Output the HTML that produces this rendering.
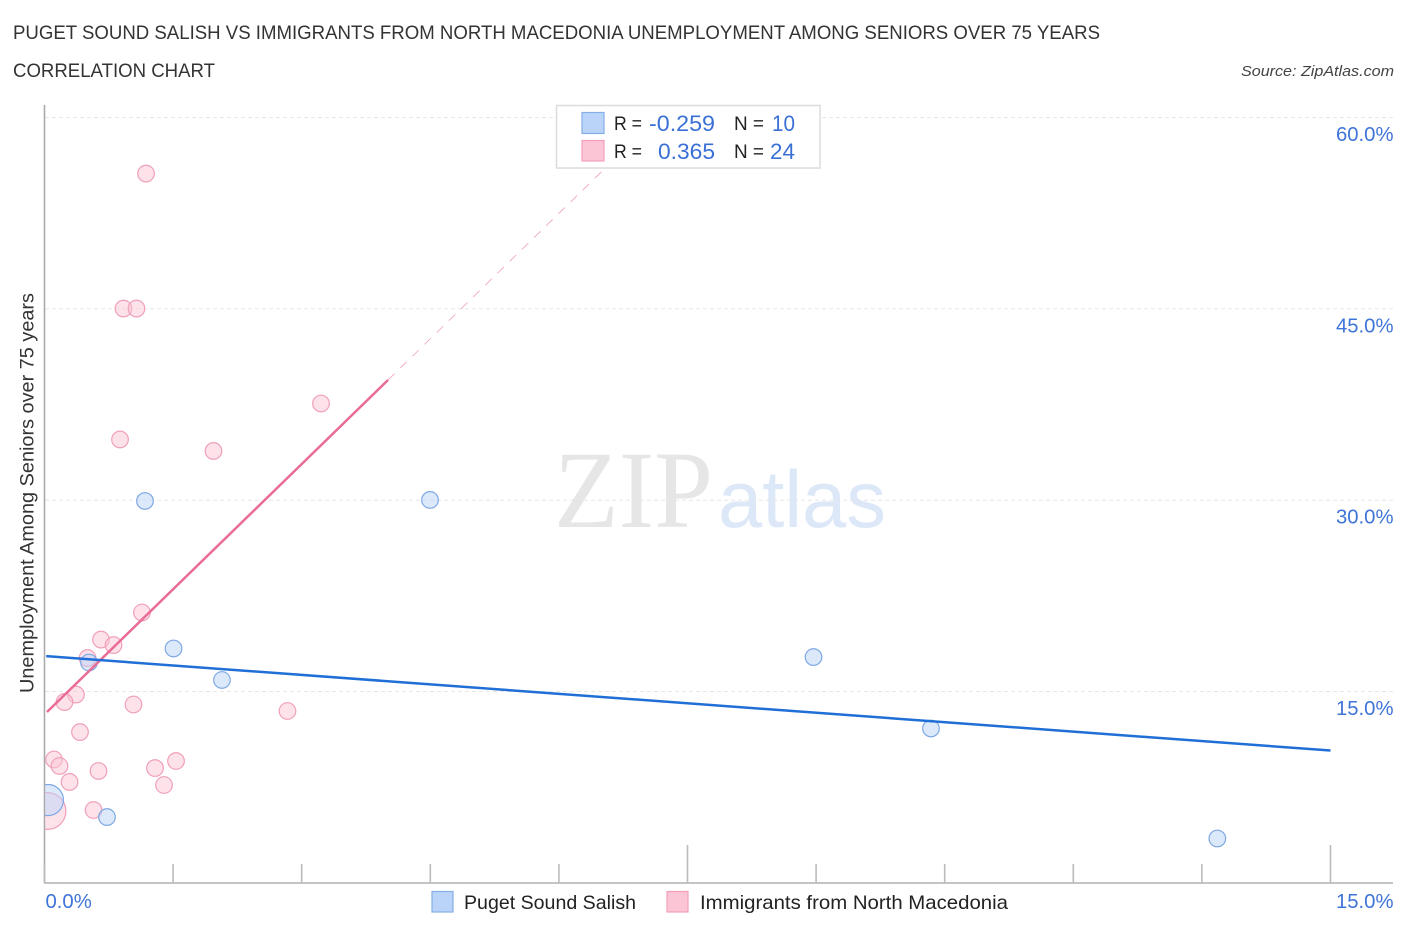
<!DOCTYPE html>
<html lang="en">
<head>
<meta charset="utf-8">
<title>Puget Sound Salish vs Immigrants from North Macedonia Correlation Chart</title>
<style>
html,body{margin:0;padding:0;background:#fff;}
svg{display:block;font-family:"Liberation Sans",sans-serif;}
</style>
</head>
<body>
<svg id="chart" xmlns="http://www.w3.org/2000/svg" width="1406" height="930" viewBox="0 0 1406 930">
  <defs>
    <clipPath id="plot-clip"><rect x="45" y="100" width="1350" height="783"/></clipPath>
  </defs>
  <rect x="0" y="0" width="1406" height="930" fill="#fff"/>
  <text x="13" y="39" font-size="19" fill="#333" textLength="1087" lengthAdjust="spacingAndGlyphs">PUGET SOUND SALISH VS IMMIGRANTS FROM NORTH MACEDONIA UNEMPLOYMENT AMONG SENIORS OVER 75 YEARS</text>
  <text x="13" y="77" font-size="19" fill="#333" textLength="202" lengthAdjust="spacingAndGlyphs">CORRELATION CHART</text>
  <text x="1241" y="76" font-size="15" font-style="italic" fill="#444" textLength="153" lengthAdjust="spacingAndGlyphs">Source: ZipAtlas.com</text>

  <g>
    <text x="554" y="527" font-family="'Liberation Serif',serif" font-size="110" fill="#e6e6e6" textLength="159" lengthAdjust="spacingAndGlyphs">ZIP</text>
    <text x="718" y="527" font-size="81" fill="#dce8f8" textLength="168" lengthAdjust="spacingAndGlyphs">atlas</text>
  </g>

  <g id="grid"></g>
  <g id="axes"></g>
  <g id="points" clip-path="url(#plot-clip)"></g>
  <g id="trends"></g>
  <g id="tick-labels"></g>

  <text transform="translate(33.5,493) rotate(-90)" text-anchor="middle" font-size="19" fill="#333" textLength="400" lengthAdjust="spacingAndGlyphs">Unemployment Among Seniors over 75 years</text>

  <g>
    <rect x="556.5" y="105.5" width="263.5" height="62.5" fill="#fff" stroke="#dcdcdc" stroke-width="1.5"/>
    <rect x="582" y="112.5" width="22" height="21" fill="#b9d4f8" stroke="#86aee6" stroke-width="1.2"/>
    <rect x="582" y="140.5" width="22" height="20.5" fill="#fcc5d6" stroke="#f2a0ba" stroke-width="1.2"/>
    <text x="614" y="130" font-size="19" fill="#222" textLength="28" lengthAdjust="spacingAndGlyphs">R =</text>
    <text x="649" y="131" font-size="22" fill="#3a70d6" textLength="66" lengthAdjust="spacingAndGlyphs">-0.259</text>
    <text x="734" y="130" font-size="19" fill="#222" textLength="30" lengthAdjust="spacingAndGlyphs">N =</text>
    <text x="772" y="131" font-size="22" fill="#3a70d6" textLength="23" lengthAdjust="spacingAndGlyphs">10</text>
    <text x="614" y="158" font-size="19" fill="#222" textLength="28" lengthAdjust="spacingAndGlyphs">R =</text>
    <text x="658" y="159" font-size="22" fill="#3a70d6" textLength="57" lengthAdjust="spacingAndGlyphs">0.365</text>
    <text x="734" y="158" font-size="19" fill="#222" textLength="30" lengthAdjust="spacingAndGlyphs">N =</text>
    <text x="770" y="159" font-size="22" fill="#3a70d6" textLength="25" lengthAdjust="spacingAndGlyphs">24</text>
  </g>

  <g>
    <g>
      <rect x="432" y="891.5" width="21" height="20.5" fill="#b9d4f8" stroke="#86aee6" stroke-width="1.2"/>
      <text x="464" y="909" font-size="19.5" fill="#222" textLength="172" lengthAdjust="spacingAndGlyphs">Puget Sound Salish</text>
    </g>
    <g>
      <rect x="667" y="891.5" width="21" height="20.5" fill="#fcc5d6" stroke="#f2a0ba" stroke-width="1.2"/>
      <text x="700" y="909" font-size="19.5" fill="#222" textLength="308" lengthAdjust="spacingAndGlyphs">Immigrants from North Macedonia</text>
    </g>
  </g>
</svg>
<script>
const blueX = [1.172, 4.497, 1.505, 2.070, 0.519, 0.729, 8.970, 10.34, 13.68, 0.04];
const blueY = [29.94, 30.02, 18.38, 15.91, 17.28, 5.17, 17.71, 12.11, 3.49, 6.50];
const blueSize = [1, 1, 1, 1, 1, 1, 1, 1, 1, 3.5];
const pinkX = [1.184, 0.921, 1.073, 3.225, 0.881, 1.971, 1.137, 0.659, 0.805, 0.502, 0.367, 0.233, 1.038, 2.834, 0.414, 0.111, 0.175, 0.630, 1.289, 1.534, 0.292, 1.394, 0.572, 0.035];
const pinkY = [55.60, 45.02, 45.02, 37.58, 34.76, 33.86, 21.20, 19.08, 18.65, 17.63, 14.77, 14.18, 13.99, 13.48, 11.83, 9.68, 9.17, 8.78, 9.01, 9.56, 7.92, 7.68, 5.72, 5.64];
const pinkSize = [1, 1, 1, 1, 1, 1, 1, 1, 1, 1, 1, 1, 1, 1, 1, 1, 1, 1, 1, 1, 1, 1, 1, 4.9];
const blueTrendX = [0.02, 15];
const blueTrendY = [17.78, 10.38];
const pinkTrendX = [0.029, 4.007];
const pinkTrendY = [13.40, 39.42];
const pinkDashX = [4.007, 6.557];
const pinkDashY = [39.42, 56.13];
const yTicks = [15, 30, 45, 60];
const yTickLabels = ["15.0%", "30.0%", "45.0%", "60.0%"];
const xTicks = [0, 1.5, 3, 4.5, 6, 7.5, 9, 10.5, 12, 13.5, 15];
const xMajorTicks = [7.5, 15];
const xEndTicks = [0, 15];
const xEndLabels = ["0.0%", "15.0%"];

const NS = "http://www.w3.org/2000/svg";
function sx(v) { return 44.5 + v * 85.733; }
function sy(v) { return 883 - v * 12.76; }
function make(tag, attrs, parent) {
  const el = document.createElementNS(NS, tag);
  for (const k in attrs) el.setAttribute(k, attrs[k]);
  document.getElementById(parent).appendChild(el);
  return el;
}

yTicks.forEach(function (t, i) {
  const grid = make("line", { x1: 45, x2: 1393, y1: sy(t), y2: sy(t), stroke: "#e4e4e4", "stroke-width": 0.9, "stroke-dasharray": "4 3" }, "grid");
  
  
  const label = make("text", { x: 1393.5, y: sy(t) + 23.5, "text-anchor": "end", "font-size": 20.3, fill: "#3f74d8" }, "tick-labels");
  label.textContent = yTickLabels[i];
  
  
});

const yAxis = make("line", { x1: 44.5, x2: 44.5, y1: 105, y2: 883, stroke: "#aaa", "stroke-width": 1.6 }, "axes");


const xAxis = make("line", { x1: 44, x2: 1393, y1: 883, y2: 883, stroke: "#bbb", "stroke-width": 1.8 }, "axes");



xTicks.forEach(function (t) {
  const major = xMajorTicks.indexOf(t) >= 0;
  const tick = make("line", { x1: sx(t), x2: sx(t), y1: major ? 845 : 864, y2: 883, stroke: "#bbb", "stroke-width": 1.6 }, "axes");
  
  
});

xEndTicks.forEach(function (t, i) {
  const label = make("text", { x: i === 0 ? sx(t) + 1 : 1393.5, y: 908, "text-anchor": i === 0 ? "start" : "end", "font-size": 20.3, fill: "#3f74d8" }, "tick-labels");
  label.textContent = xEndLabels[i];
  
  
});

pinkX.forEach(function (v, i) {
  const c = make("circle", { cx: sx(v), cy: sy(pinkY[i]), r: 8.3 * Math.sqrt(pinkSize[i]), fill: "#fcc5d6", "fill-opacity": 0.5, stroke: "#f0a0b9", "stroke-width": 1.2 }, "points");
  
  
});

blueX.forEach(function (v, i) {
  const c = make("circle", { cx: sx(v), cy: sy(blueY[i]), r: 8.3 * Math.sqrt(blueSize[i]), fill: "#b9d4f8", "fill-opacity": 0.5, stroke: "#7fa8e4", "stroke-width": 1.2 }, "points");
  
  
});

const pinkDash = make("line", { x1: sx(pinkDashX[0]), y1: sy(pinkDashY[0]), x2: sx(pinkDashX[1]), y2: sy(pinkDashY[1]), stroke: "#e87fa3", "stroke-width": 0.8, "stroke-dasharray": "9 8", "stroke-opacity": 0.75 }, "trends");



const pinkTrend = make("line", { x1: sx(pinkTrendX[0]), y1: sy(pinkTrendY[0]), x2: sx(pinkTrendX[1]), y2: sy(pinkTrendY[1]), stroke: "#e96c97", "stroke-width": 2.5 }, "trends");



const blueTrend = make("line", { x1: sx(blueTrendX[0]), y1: sy(blueTrendY[0]), x2: sx(blueTrendX[1]), y2: sy(blueTrendY[1]), stroke: "#1f6fd6", "stroke-width": 2.5 }, "trends");


</script>
</body>
</html>
